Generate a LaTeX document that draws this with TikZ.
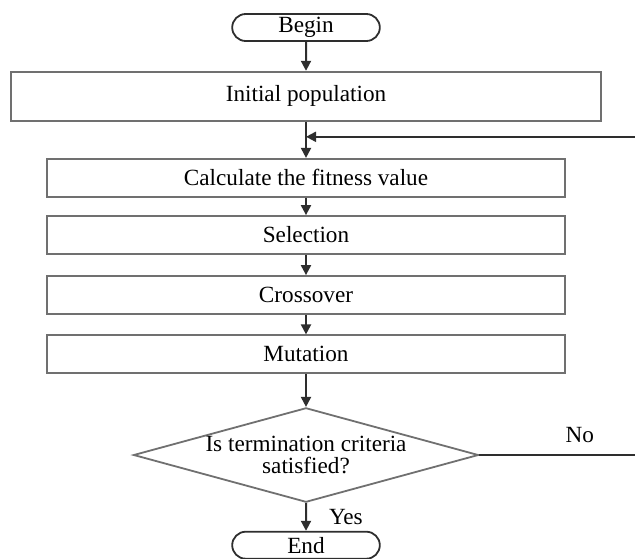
\documentclass[tikz,border=0pt]{standalone}
\usepackage{fontspec}
\setmainfont{Liberation Serif}
\usetikzlibrary{shapes.geometric,shapes.misc,arrows.meta}
\definecolor{frame}{HTML}{707070}
\definecolor{flow}{HTML}{2E2E2E}

\begin{document}
\begin{tikzpicture}[x=0.5pt,y=-0.5pt,
    font=\fontsize{11.6}{11}\selectfont,
    terminal/.style={draw=flow, line width=0.9pt, rounded rectangle, minimum width=73.8pt, minimum height=13.5pt, inner sep=0pt},
    process/.style={draw=frame, line width=0.9pt, minimum width=258.8pt, minimum height=19pt, inner sep=0pt},
    decision/.style={draw=frame, line width=0.9pt, diamond, shape aspect=3.65, minimum width=172.5pt, minimum height=47.2pt, inner xsep=-20pt, inner ysep=0pt, align=center},
    flowarrow/.style={draw=flow, line width=1pt, -{Triangle[length=5pt,width=5pt]}},
    lbl/.style={inner sep=0pt}]
  \useasboundingbox (0,0) rectangle (635,558);
  \clip (0,0) rectangle (635,558);

  % boxes
  \node[terminal] (start) at (306,27.5) {Begin};
  \node[process, minimum width=295pt, minimum height=24.6pt] (init) at (306,96.3) {Initial population};
  \node[process] (calc) at (306,177.8) {Calculate the fitness value};
  \node[process] (select) at (306,235) {Selection};
  \node[process] (cross) at (306,295) {Crossover};
  \node[process] (mutate) at (306,354.3) {Mutation};
  \node[decision] (check) at (306,455) {Is termination criteria\\satisfied?};
  \node[terminal] (stop) at (306,545.2) {End};

  % loop points
  \coordinate (join) at ([yshift=-7.5pt]init.south);
  \coordinate (far) at (680,455);

  % arrows
  \draw[flowarrow] (start) -- (init);
  \draw[flowarrow] (init) -- (calc);
  \draw[flowarrow] (calc) -- (select);
  \draw[flowarrow] (select) -- (cross);
  \draw[flowarrow] (cross) -- (mutate);
  \draw[flowarrow] (mutate) -- (check);
  \draw[flowarrow] (check) -- node[lbl, right=11pt] {Yes} (stop);
  \draw[flowarrow] (check.east) -- node[lbl, above=5.5pt] {No} (far) |- (join);
\end{tikzpicture}
\end{document}
